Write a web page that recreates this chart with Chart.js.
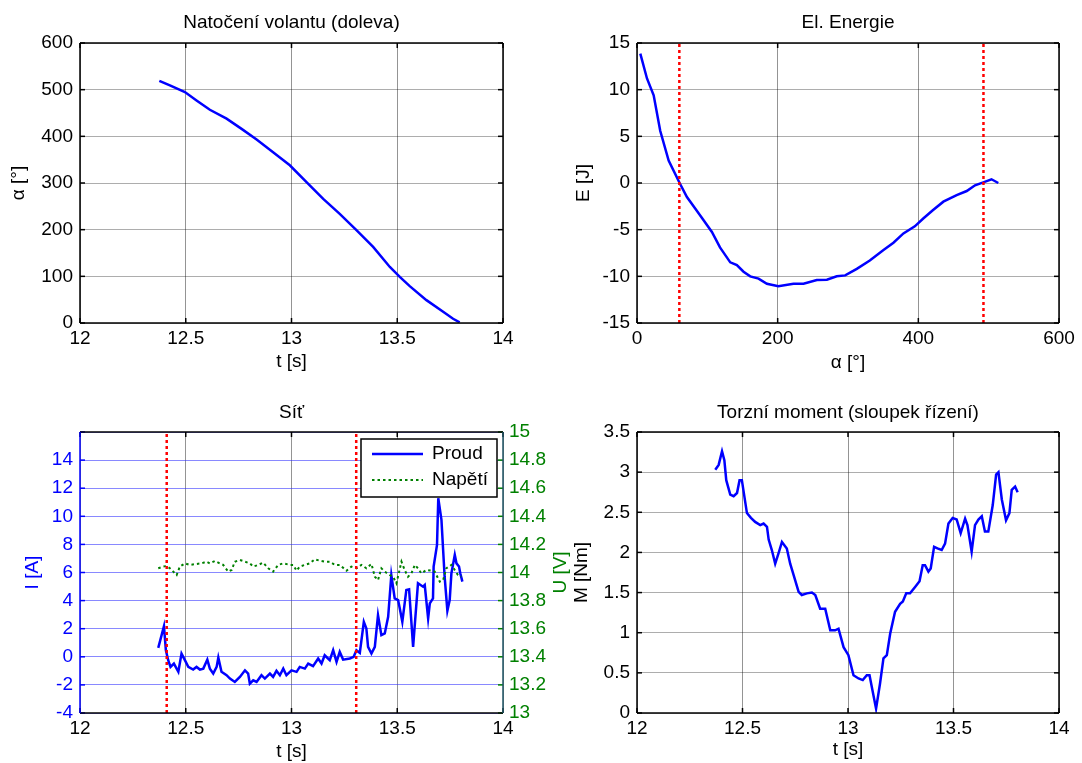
<!DOCTYPE html>
<html><head><meta charset="utf-8">
<script src="https://cdn.jsdelivr.net/npm/chart.js@4.4.0/dist/chart.umd.min.js"></script>
<style>
html,body{margin:0;padding:0;background:#fff;width:1082px;height:763px;overflow:hidden;}
canvas{position:absolute;}
</style></head><body>
<canvas id="c1" width="560" height="385" style="left:0;top:0;width:560px;height:385px"></canvas>
<canvas id="c2" width="522" height="385" style="left:560px;top:0;width:522px;height:385px"></canvas>
<canvas id="c3" width="620" height="378" style="left:0;top:385px;width:620px;height:378px"></canvas>
<canvas id="c4" width="522" height="378" style="left:560px;top:385px;width:522px;height:378px"></canvas>
<script>
// ---------- DATA ----------
const tAngle = [12.375,12.425,12.496,12.551,12.614,12.693,12.764,12.835,12.913,12.992,13.071,13.150,13.228,13.307,13.386,13.465,13.512,13.559,13.638,13.717,13.764,13.795];
const angle  = [519,509,495,477,457,438,416,393,366,338,302,266,234,199,163,120,99,79,49,24,9,1.4];

const alphaE = [4.7,14.2,23.7,33,45,60.6,71,83,94.7,106.5,118,132.6,142,151.5,161,172.8,184.7,201,222.5,236.7,255.7,270,284,296,312.5,331,350,364.6,378.8,395,407,421,435.6,454.5,468.8,480.6,492.4,504,513.7];
const energy = [13.86,11.2,9.4,5.6,2.4,0,-1.5,-2.75,-4,-5.25,-6.9,-8.5,-8.8,-9.5,-10,-10.25,-10.8,-11.07,-10.8,-10.8,-10.4,-10.36,-10,-9.9,-9.2,-8.3,-7.2,-6.4,-5.4,-4.64,-3.8,-2.9,-2.0,-1.3,-0.86,-0.25,0.07,0.4,0];
const markerAlpha = [60.2, 492.6];

const tCurrent = [12.370,12.397,12.406,12.417,12.428,12.444,12.465,12.480,12.496,12.512,12.535,12.551,12.567,12.583,12.602,12.614,12.630,12.646,12.654,12.669,12.693,12.709,12.732,12.756,12.780,12.795,12.803,12.819,12.835,12.858,12.874,12.898,12.913,12.929,12.945,12.961,12.976,13.000,13.024,13.039,13.063,13.079,13.102,13.126,13.142,13.157,13.181,13.197,13.213,13.228,13.244,13.276,13.294,13.307,13.323,13.342,13.354,13.362,13.378,13.394,13.409,13.425,13.441,13.457,13.472,13.488,13.504,13.512,13.524,13.543,13.556,13.575,13.598,13.622,13.630,13.646,13.654,13.669,13.672,13.688,13.694,13.709,13.724,13.737,13.748,13.756,13.772,13.780,13.792,13.798,13.808];
const current  = [0.64,2.18,0.47,-0.24,-0.72,-0.48,-1.07,0.23,-0.24,-0.72,-0.91,-0.72,-0.91,-0.84,-0.20,-0.84,-1.19,-0.72,-0.05,-1.07,-1.31,-1.55,-1.79,-1.43,-0.96,-1.19,-1.91,-1.67,-1.79,-1.31,-1.55,-1.19,-1.43,-1.00,-1.31,-0.84,-1.31,-0.96,-1.07,-0.72,-0.84,-0.48,-0.67,-0.12,-0.48,0.11,-0.24,0.47,-0.36,0.35,-0.20,-0.12,0.00,0.47,0.28,2.49,2.02,0.71,0.23,0.71,2.97,1.54,1.66,2.85,5.82,4.16,4.04,3.44,2.49,4.75,4.80,0.71,5.23,4.99,5.11,2.73,3.80,4.16,6.42,7.96,11.29,9.75,5.70,3.28,4.04,5.94,7.25,6.65,6.42,5.94,5.35];
const tVoltage = [12.370,12.394,12.409,12.425,12.441,12.457,12.472,12.496,12.520,12.551,12.575,12.598,12.614,12.638,12.661,12.677,12.701,12.717,12.732,12.756,12.780,12.803,12.819,12.843,12.866,12.890,12.913,12.937,12.961,12.992,13.008,13.024,13.039,13.063,13.087,13.110,13.134,13.157,13.181,13.205,13.228,13.260,13.283,13.307,13.331,13.354,13.378,13.394,13.409,13.425,13.441,13.465,13.480,13.496,13.520,13.535,13.551,13.567,13.583,13.598,13.614,13.638,13.661,13.677,13.701,13.717,13.732,13.756,13.772,13.787,13.803];
const voltage  = [14.030,14.042,14.046,14.030,14.006,13.982,14.042,14.065,14.054,14.061,14.065,14.077,14.065,14.082,14.065,14.054,14.006,14.018,14.077,14.089,14.077,14.065,14.042,14.054,14.070,14.030,14.006,14.054,14.065,14.054,14.054,14.013,14.042,14.054,14.065,14.094,14.084,14.077,14.077,14.054,14.054,14.013,14.042,14.030,14.054,14.030,14.061,13.970,13.946,14.030,14.006,13.982,13.970,13.923,14.077,14.018,13.970,13.994,14.054,14.030,13.994,14.018,14.013,14.006,13.935,13.946,14.030,14.054,14.018,13.982,13.970];
const markerT = [12.41, 13.306];

const tTorque = [12.371,12.387,12.403,12.414,12.423,12.442,12.458,12.474,12.486,12.497,12.521,12.540,12.560,12.584,12.600,12.616,12.624,12.639,12.655,12.671,12.687,12.710,12.726,12.742,12.766,12.781,12.805,12.829,12.845,12.868,12.892,12.916,12.939,12.955,12.979,13.002,13.026,13.050,13.070,13.089,13.102,13.133,13.152,13.168,13.184,13.200,13.223,13.247,13.260,13.276,13.294,13.318,13.339,13.354,13.365,13.381,13.392,13.408,13.424,13.444,13.460,13.476,13.496,13.515,13.534,13.555,13.566,13.586,13.602,13.618,13.634,13.649,13.665,13.686,13.702,13.713,13.729,13.749,13.765,13.776,13.792,13.804];
const torque  = [3.03,3.09,3.26,3.15,2.90,2.72,2.70,2.74,2.90,2.90,2.49,2.43,2.38,2.34,2.36,2.32,2.16,2.03,1.86,1.99,2.13,2.05,1.86,1.72,1.51,1.47,1.49,1.50,1.47,1.30,1.30,1.03,1.03,1.05,0.82,0.72,0.47,0.43,0.41,0.47,0.47,0.054,0.37,0.68,0.72,0.99,1.26,1.36,1.39,1.49,1.49,1.57,1.64,1.84,1.84,1.76,1.80,2.07,2.05,2.03,2.11,2.36,2.43,2.41,2.24,2.42,2.34,2.01,2.34,2.41,2.45,2.26,2.26,2.59,2.97,3.00,2.66,2.40,2.49,2.78,2.82,2.75];

// tick values and labels
const tTicks = [12,12.5,13,13.5,14];
const tTickLabels = ['12','12.5','13','13.5','14'];
const angleTicks = [0,100,200,300,400,500,600];
const angleTickLabels = ['0','100','200','300','400','500','600'];
const alphaTicks = [0,200,400,600];
const alphaTickLabels = ['0','200','400','600'];
const energyTicks = [-15,-10,-5,0,5,10,15];
const energyTickLabels = ['-15','-10','-5','0','5','10','15'];
const currentTicks = [-4,-2,0,2,4,6,8,10,12,14,16];
const currentTickLabels = ['-4','-2','0','2','4','6','8','10','12','14',''];
const voltageTicks = [13,13.2,13.4,13.6,13.8,14,14.2,14.4,14.6,14.8,15];
const voltageTickLabels = ['13','13.2','13.4','13.6','13.8','14','14.2','14.4','14.6','14.8','15'];
const torqueTicks = [0,0.5,1,1.5,2,2.5,3,3.5];
const torqueTickLabels = ['0','0.5','1','1.5','2','2.5','3','3.5'];

// ---------- helpers ----------
const FAM = "'Liberation Sans', Arial, Helvetica, sans-serif";
const FS = 19;
const font = {family: FAM, size: FS};
Chart.defaults.font.family = FAM;
Chart.defaults.font.size = FS;
Chart.defaults.color = '#000';
const pts = (xs, ys) => xs.map((x, i) => ({x, y: ys[i]}));
const vline = (x, y0, y1) => [{x, y: y0}, {x, y: y1}];
const BLUE = '#0000ff', RED = '#ff0000', GREEN = '#008000';
const GRIDV = 'rgba(0,0,0,0.42)', GRIDH = 'rgba(0,0,0,0.32)';

function scale(opts) {
  const {pos, min, max, vals, labels, color = '#000', grid = GRIDV, gridOn = true, size, title, titleColor = '#000', titlePad = {}, pad = 4.4} = opts;
  const horiz = pos === 'bottom';
  return {
    type: 'linear', position: pos, min, max,
    afterBuildTicks: s => { s.ticks = vals.map(v => ({value: v})); },
    afterFit: s => { if (horiz) s.height = size; else s.width = size; },
    ticks: {autoSkip: false, maxRotation: 0, color, padding: pad, font, callback: (v, i) => labels[i]},
    grid: {display: gridOn, drawTicks: false, color: grid, lineWidth: 1},
    border: {display: false},
    title: title ? {display: true, text: title, color: titleColor, font, padding: titlePad} : {display: false}
  };
}

const boxPlugin = {
  id: 'mbox',
  afterDatasetsDraw(chart, args, o) {
    const {ctx, chartArea: a} = chart;
    ctx.save();
    ctx.lineWidth = 1.5;
    const seg = (x1, y1, x2, y2, c) => { ctx.strokeStyle = c; ctx.beginPath(); ctx.moveTo(x1, y1); ctx.lineTo(x2, y2); ctx.stroke(); };
    const tl = 5;
    const xs = chart.scales.x;
    xs.ticks.forEach(t => { const p = xs.getPixelForValue(t.value); seg(p, a.bottom, p, a.bottom - tl, '#000'); seg(p, a.top, p, a.top + tl, '#000'); });
    const ys = chart.scales.y;
    ys.ticks.forEach(t => { const p = ys.getPixelForValue(t.value); seg(a.left, p, a.left + tl, p, o.left || '#000'); if (!chart.scales.y2) seg(a.right, p, a.right - tl, p, '#000'); });
    if (chart.scales.y2) { const y2 = chart.scales.y2; y2.ticks.forEach(t => { const p = y2.getPixelForValue(t.value); seg(a.right, p, a.right - tl, p, GREEN); }); }
    seg(a.left, a.top, a.right, a.top, '#000');
    seg(a.left, a.bottom, a.right, a.bottom, '#000');
    seg(a.left, a.top, a.left, a.bottom, o.left || '#000');
    seg(a.right, a.top, a.right, a.bottom, o.right || '#000');
    ctx.restore();
  }
};

const legendPlugin = {
  id: 'mlegend',
  afterDraw(chart, args, o) {
    if (!o.items) return;
    const {ctx, chartArea: a} = chart;
    const w = 136, h = 58, x = a.right - 6 - w, y = a.top + 7;
    ctx.save();
    ctx.fillStyle = '#fff'; ctx.fillRect(x, y, w, h);
    ctx.strokeStyle = '#000'; ctx.lineWidth = 1.5; ctx.strokeRect(x, y, w, h);
    o.items.forEach((idx, k) => {
      const ds = chart.data.datasets[idx];
      const ly = y + 15 + k * 26;
      ctx.strokeStyle = ds.borderColor; ctx.lineWidth = ds.borderWidth; ctx.setLineDash(ds.borderDash || []);
      ctx.beginPath(); ctx.moveTo(x + 11, ly); ctx.lineTo(x + 62, ly); ctx.stroke();
      ctx.setLineDash([]);
      ctx.fillStyle = '#000'; ctx.font = FS + 'px ' + FAM; ctx.textBaseline = 'middle'; ctx.textAlign = 'left';
      ctx.fillText(ds.label, x + 71, ly);
    });
    ctx.restore();
  }
};

const rightTitlePlugin = {
  id: 'rtitle',
  afterDraw(chart, args, o) {
    if (!o.text) return;
    const {ctx, chartArea: a} = chart;
    ctx.save();
    ctx.translate(o.x, (a.top + a.bottom) / 2);
    ctx.rotate(-Math.PI / 2);
    ctx.fillStyle = o.color; ctx.font = FS + 'px ' + FAM; ctx.textAlign = 'center'; ctx.textBaseline = 'middle';
    ctx.fillText(o.text, 0, 0);
    ctx.restore();
  }
};

function titleOpt(text, top, bottom) {
  return {display: true, text, fullSize: false, color: '#000', font: {family: FAM, size: FS, weight: 'normal'}, padding: {top, bottom}};
}
const lineDs = (label, data, color, width, dash, yAxisID, order) => ({
  label, data, showLine: true, borderColor: color, backgroundColor: color, borderWidth: width,
  borderDash: dash, pointRadius: 0, pointHoverRadius: 0, tension: 0, yAxisID: yAxisID || 'y', order: order || 0
});
const baseOpts = (layoutPad, plugins, scales) => ({
  responsive: false, animation: false, devicePixelRatio: 1,
  layout: {padding: layoutPad},
  plugins: Object.assign({legend: {display: false}, tooltip: {enabled: false}}, plugins),
  scales
});
const PLUGS = [boxPlugin, legendPlugin, rightTitlePlugin];

// ---------- Chart 1 ----------
new Chart(document.getElementById('c1'), {
  type: 'scatter',
  data: {datasets: [lineDs('α', pts(tAngle, angle), BLUE, 2.5)]},
  options: baseOpts({left: 0, top: 0, right: 57, bottom: 0},
    {title: titleOpt('Natočení volantu (doleva)', 11.6, 8.6)},
    {
      x: scale({pos: 'bottom', min: 12, max: 14, vals: tTicks, labels: tTickLabels, size: 62, title: 't [s]', titlePad: {top: 0, bottom: 11.9}}),
      y: scale({pos: 'left', min: 0, max: 600, vals: angleTicks, labels: angleTickLabels, grid: GRIDH, size: 80, pad: 7, title: 'α [°]', titlePad: {top: 7.6, bottom: 0}})
    }),
  plugins: PLUGS
});

// ---------- Chart 2 ----------
new Chart(document.getElementById('c2'), {
  type: 'scatter',
  data: {datasets: [
    lineDs('E', pts(alphaE, energy), BLUE, 2.5, [], 'y', 1),
    lineDs('m1', vline(markerAlpha[0], -15, 15), RED, 2.5, [3, 3], 'y', 0),
    lineDs('m2', vline(markerAlpha[1], -15, 15), RED, 2.5, [3, 3], 'y', 0)
  ]},
  options: baseOpts({left: 0, top: 0, right: 23, bottom: 0},
    {title: titleOpt('El. Energie', 11.6, 8.6)},
    {
      x: scale({pos: 'bottom', min: 0, max: 600, vals: alphaTicks, labels: alphaTickLabels, size: 62, title: 'α [°]', titlePad: {top: 0, bottom: 10.6}}),
      y: scale({pos: 'left', min: -15, max: 15, vals: energyTicks, labels: energyTickLabels, grid: GRIDH, size: 77, pad: 7, title: 'E [J]', titlePad: {top: 12.6, bottom: 0}})
    }),
  plugins: PLUGS
});

// ---------- Chart 3 ----------
new Chart(document.getElementById('c3'), {
  type: 'scatter',
  data: {datasets: [
    lineDs('Proud', pts(tCurrent, current), BLUE, 2.5, [], 'y', 2),
    lineDs('Napětí', pts(tVoltage, voltage), GREEN, 2, [2.5, 3], 'y2', 1),
    lineDs('m1', vline(markerT[0], -4, 16), RED, 2.5, [3, 3], 'y', 0),
    lineDs('m2', vline(markerT[1], -4, 16), RED, 2.5, [3, 3], 'y', 0)
  ]},
  options: baseOpts({left: 0, top: 0, right: 0, bottom: 0},
    {title: titleOpt('Síť', 16.3, 7.9),
     mbox: {left: BLUE, right: '#1f5566'},
     mlegend: {items: [0, 1]},
     rtitle: {text: 'U [V]', color: GREEN, x: 561}},
    {
      x: scale({pos: 'bottom', min: 12, max: 14, vals: tTicks, labels: tTickLabels, size: 50, title: 't [s]', titlePad: {top: 0, bottom: 0}}),
      y: scale({pos: 'left', min: -4, max: 16, vals: currentTicks, labels: currentTickLabels, color: BLUE, grid: 'rgba(40,40,255,0.55)', size: 80, pad: 7, title: 'I [A]', titleColor: BLUE, titlePad: {top: 21.6, bottom: 0}}),
      y2: scale({pos: 'right', min: 13, max: 15, vals: voltageTicks, labels: voltageTickLabels, color: GREEN, gridOn: false, size: 117, pad: 6})
    }),
  plugins: PLUGS
});

// ---------- Chart 4 ----------
new Chart(document.getElementById('c4'), {
  type: 'scatter',
  data: {datasets: [lineDs('M', pts(tTorque, torque), BLUE, 2.5)]},
  options: baseOpts({left: 0, top: 0, right: 23, bottom: 0},
    {title: titleOpt('Torzní moment (sloupek řízení)', 16.3, 7.9)},
    {
      x: scale({pos: 'bottom', min: 12, max: 14, vals: tTicks, labels: tTickLabels, size: 50, title: 't [s]', titlePad: {top: 0, bottom: 1.6}}),
      y: scale({pos: 'left', min: 0, max: 3.5, vals: torqueTicks, labels: torqueTickLabels, grid: GRIDH, size: 77, pad: 7, title: 'M [Nm]', titlePad: {top: 10.6, bottom: 0}})
    }),
  plugins: PLUGS
});
</script>
</body></html>
